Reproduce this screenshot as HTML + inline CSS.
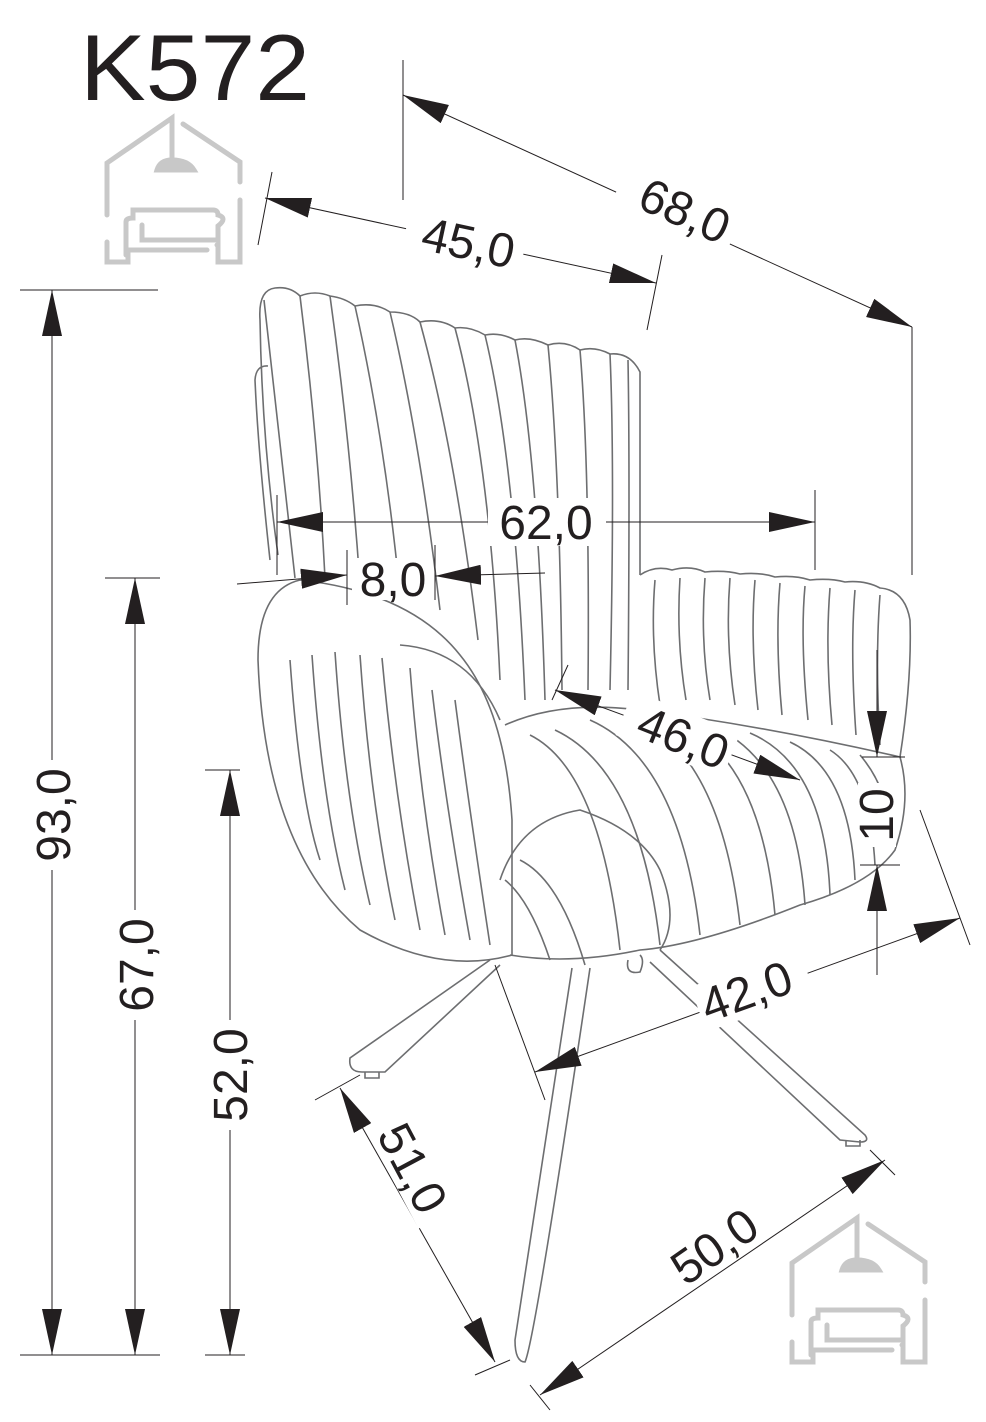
<!DOCTYPE html>
<html><head><meta charset="utf-8"><style>
html,body{margin:0;padding:0;background:#fff}
svg{display:block}
text{font-family:"Liberation Sans",sans-serif;fill:#231f20}
</style></head><body>
<svg width="986" height="1422" viewBox="0 0 986 1422" xmlns="http://www.w3.org/2000/svg">
<defs>
<marker id="a" viewBox="0 0 46 20" refX="46" refY="10" markerWidth="46" markerHeight="20" markerUnits="userSpaceOnUse" orient="auto-start-reverse">
<path d="M46,10 L0,0 L0,20 Z" fill="#231f20"/>
</marker>
<g id="logo" fill="none" stroke="#c8c8c8" stroke-width="5" stroke-linecap="round">
<path d="M107,215 V163 L172,118 V160"/>
<path d="M183,124 L240,162 V182"/>
<path d="M240,200 V262 H218 V245 H217"/>
<path d="M157,170 Q160,160 172,160 Q188,160 194,170 Z" fill="#c8c8c8"/>
<path d="M107,242 V262 H128 V250 H207"/>
<path d="M126,255 V222 Q126,218 133,218 V210 H213 Q218,210 218,215 Q228,218 218,226 V240 H142 V225"/>
</g>
</defs>

<text x="80" y="100" font-size="94" textLength="230" lengthAdjust="spacingAndGlyphs">K572</text>
<use href="#logo"/>
<use href="#logo" transform="translate(685,1100)"/>

<g fill="none" stroke="#6d6e70" stroke-width="1.6">
<path d="M278,555 Q262,440 260,320 Q258,290 275,288 Q290,286 300,296 Q315,290 330,296 Q345,298 355,306 Q375,302 390,312 Q410,312 420,322 Q440,318 455,328 Q470,326 485,335 Q500,332 515,340 Q530,336 548,345 Q565,340 580,350 Q595,346 610,354 Q630,352 640,372 L640,575"/>
<path d="M270,560 Q258,450 255,380 Q256,365 268,366"/>
<path d="M264,300 Q280,440 295,578 M300,296 Q318,440 325,578 M330,296 Q350,440 360,585 M355,306 Q385,440 400,595 M390,312 Q420,440 440,610 M420,322 Q455,450 478,640 M455,328 Q490,460 500,680 M485,335 Q515,460 525,700 M515,340 Q538,460 545,700 M548,345 Q560,470 562,690 M580,350 Q590,470 588,690 M610,354 Q615,470 610,690 M628,360 Q630,470 628,690"/>
<path d="M640,575 Q655,565 672,570 Q690,565 705,572 Q725,570 740,574 Q760,572 775,577 Q795,575 810,580 Q830,578 845,582 Q865,580 880,588 Q905,590 910,620 Q912,680 900,757"/>
<path d="M655,580 Q650,640 660,705 M680,578 Q676,640 686,700 M705,578 Q700,640 710,700 M730,578 Q725,640 735,705 M755,580 Q750,640 758,710 M780,583 Q775,640 782,715 M805,586 Q800,640 808,720 M830,588 Q825,650 832,725 M855,590 Q850,650 856,735 M880,595 Q875,660 880,745"/>
<path d="M505,725 Q560,700 640,710 Q760,725 900,757 Q912,800 895,850 Q870,885 800,905 Q700,945 640,950 Q570,965 510,955"/>
<path d="M530,735 Q600,770 620,950 M555,730 Q640,770 660,945 M590,720 Q680,760 700,935 M630,715 Q720,750 740,925 M670,720 Q760,750 775,915 M710,725 Q795,760 805,905 M750,733 Q825,765 830,895 M790,742 Q850,770 855,880 M830,750 Q870,775 875,865 M860,755 Q890,790 890,840"/>
<path d="M500,880 Q520,820 580,810 Q640,830 660,870 Q680,920 660,950"/>
<path d="M505,880 Q530,900 550,960 M520,860 Q560,880 585,965"/>
<path d="M300,580 Q258,590 258,660 Q265,850 360,930 Q440,975 512,955 L512,820 Q505,710 460,655 Q410,592 300,580 Z"/>
<path d="M400,645 Q470,650 500,720"/>
<path d="M290,660 Q300,800 320,860 M312,655 Q322,800 345,890 M335,652 Q345,800 370,905 M360,655 Q370,800 395,920 M382,658 Q395,800 420,930 M410,668 Q420,800 445,935 M432,690 Q445,800 470,940 M455,700 Q468,800 490,945"/>
<path d="M490,960 L350,1058 Q348,1072 362,1072 L385,1072 L500,965"/>
<path d="M572,968 L515,1340 Q515,1362 525,1362 Q535,1340 590,968"/>
<path d="M660,950 L865,1135 Q870,1142 860,1142 L840,1140 L650,962"/>
<path d="M628,960 Q625,975 640,972 Q645,960 640,955"/>
<path d="M365,1072 v6 h14 v-6 M846,1140 v6 h14 v-6"/>
</g>

<g stroke="#231f20" stroke-width="1" fill="none">
<path d="M20,290 H158 M20,1355 H160"/>
<path d="M52,290 V1355" marker-start="url(#a)" marker-end="url(#a)"/>
<path d="M105,578 H160 M108,1355 H160"/>
<path d="M135,578 V1355" marker-start="url(#a)" marker-end="url(#a)"/>
<path d="M205,770 H240 M205,1355 H245"/>
<path d="M230,770 V1355" marker-start="url(#a)" marker-end="url(#a)"/>
<path d="M272,172 L258,245 M662,255 L647,330"/>
<path d="M265,198 L656,283" marker-start="url(#a)" marker-end="url(#a)"/>
<path d="M403,60 V200 M912,327 V575"/>
<path d="M403,95 L912,327" marker-start="url(#a)" marker-end="url(#a)"/>
<path d="M815,490 V570 M277,495 V575"/>
<path d="M277,522 H815" marker-start="url(#a)" marker-end="url(#a)"/>
<path d="M347,550 V605 M435,545 V600"/>
<path d="M237,584 L347,575" marker-end="url(#a)"/>
<path d="M545,573 L435,576" marker-end="url(#a)"/>
<path d="M568,665 L552,700"/>
<path d="M555,690 L800,780" marker-start="url(#a)" marker-end="url(#a)"/>
<path d="M877,650 V757" marker-end="url(#a)"/>
<path d="M877,975 V865" marker-end="url(#a)"/>
<path d="M862,757 H905 M860,865 H900"/>
<path d="M920,810 L970,945 M495,965 L545,1100"/>
<path d="M535,1072 L960,918" marker-start="url(#a)" marker-end="url(#a)"/>
<path d="M315,1100 L360,1075 M475,1375 L510,1360"/>
<path d="M340,1088 L495,1362" marker-start="url(#a)" marker-end="url(#a)"/>
<path d="M540,1395 L885,1160" marker-start="url(#a)" marker-end="url(#a)"/>
<path d="M870,1150 L895,1175 M530,1385 L550,1410"/>
</g>
<g fill="#fff">
<rect x="405" y="213" width="120" height="54" transform="rotate(12 465 240)"/>
<rect x="615" y="180" width="125" height="56" transform="rotate(24 678 208)"/>
<rect x="488" y="498" width="118" height="48"/>
<rect x="352" y="558" width="80" height="42"/>
<rect x="620" y="710" width="115" height="48" transform="rotate(22 677 735)"/>
<rect x="695" y="966" width="115" height="48" transform="rotate(-20 752 990)"/>
<rect x="355" y="1143" width="115" height="48" transform="rotate(62 413 1167)"/>
<rect x="655" y="1220" width="115" height="48" transform="rotate(-35 713 1245)"/>
<rect x="30" y="760" width="46" height="110"/>
<rect x="113" y="910" width="46" height="110"/>
<rect x="208" y="1020" width="46" height="110"/>
<rect x="858" y="783" width="38" height="64"/>
</g>
<g font-size="48">
<text transform="translate(465,259) rotate(12)" text-anchor="middle">45,0</text>
<text transform="translate(678,226) rotate(24)" text-anchor="middle">68,0</text>
<text x="546" y="539" text-anchor="middle">62,0</text>
<text x="393" y="596" text-anchor="middle">8,0</text>
<text transform="translate(677,753) rotate(22)" text-anchor="middle">46,0</text>
<text transform="translate(752,1007) rotate(-20)" text-anchor="middle">42,0</text>
<text transform="translate(398,1176) rotate(62)" text-anchor="middle">51,0</text>
<text transform="translate(724,1260) rotate(-35)" text-anchor="middle">50,0</text>
<text transform="translate(70,815) rotate(-90)" text-anchor="middle">93,0</text>
<text transform="translate(153,965) rotate(-90)" text-anchor="middle">67,0</text>
<text transform="translate(247,1075) rotate(-90)" text-anchor="middle">52,0</text>
<text transform="translate(893,815) rotate(-90)" text-anchor="middle">10</text>
</g>
</svg>
</body></html>
